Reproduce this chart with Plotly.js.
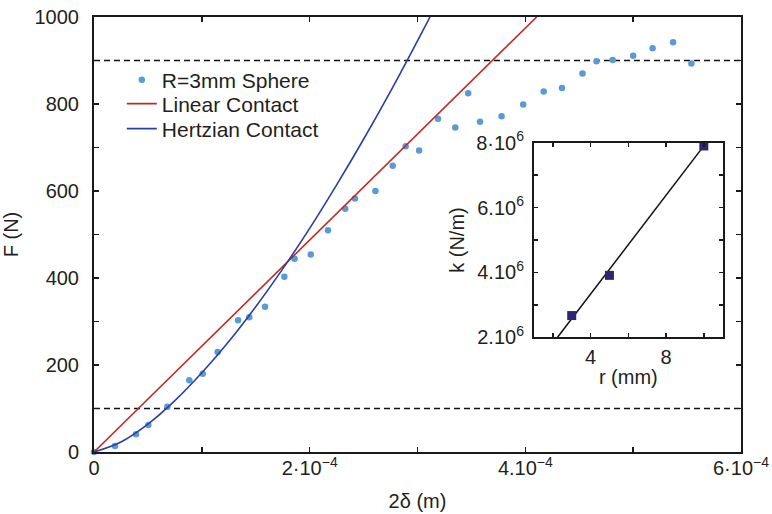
<!DOCTYPE html>
<html>
<head>
<meta charset="utf-8">
<script src="https://cdn.plot.ly/plotly-3.0.1.min.js"></script>
<style>
html,body{margin:0;padding:0;background:#fff;}
#chart{width:772px;height:514px;}
</style>
</head>
<body>
<div id="chart"></div>
<script>
// ---- Main data: R=3mm sphere, F vs 2δ ----
const sphereX = [0, 1.95e-5, 3.9e-5, 5.04e-5, 6.8e-5, 8.84e-5, 1.008e-4, 1.147e-4, 1.336e-4, 1.44e-4,
  1.586e-4, 1.765e-4, 1.86e-4, 2.01e-4, 2.17e-4, 2.33e-4, 2.42e-4, 2.61e-4, 2.77e-4, 2.89e-4,
  3.015e-4, 3.19e-4, 3.35e-4, 3.47e-4, 3.58e-4, 3.78e-4, 3.98e-4, 4.17e-4, 4.34e-4, 4.53e-4,
  4.66e-4, 4.81e-4, 5.0e-4, 5.18e-4, 5.37e-4, 5.54e-4];
const sphereF = [0, 14, 41, 62, 104, 165, 180, 230, 303, 310,
  334, 403, 444, 454, 510, 559, 583, 600, 658, 703,
  693, 766, 746, 825, 759, 772, 799, 829, 837, 870,
  898, 901, 911, 928, 942, 893];

// Linear contact fit (read endpoints)
const linearX = [0, 4.105e-4];
const linearF = [0, 1000];

// Hertzian contact fit
const hertzX = [0, 2.5e-5, 5e-5, 7.5e-5, 1e-4, 1.25e-4, 1.5e-4, 1.75e-4, 2e-4, 2.25e-4, 2.5e-4, 2.75e-4, 3e-4, 3.116e-4];
const hertzF = [0, 23, 64, 118, 182, 254, 334, 421, 514, 614, 719, 829, 945, 1000];

// Dashed threshold levels
const thresholdLevels = [100, 900];

// ---- Inset: k vs r ----
const insetR = [3, 5, 10];
const insetK = [2.67e6, 3.91e6, 7.9e6];
const insetFitR = [2.25, 10.1];
const insetFitK = [2.0e6, 7.98e6];

// Tick labels (major) and minor tick positions
const xTickVals = [0, 2e-4, 4e-4, 6e-4];
const xTickText = ['0', '2·10<sup>−4</sup>', '4.10<sup>−4</sup>', '6·10<sup>−4</sup>'];
const xMinorVals = [1e-4, 3e-4, 5e-4];
const yTickVals = [0, 200, 400, 600, 800, 1000];
const yTickText = ['0', '200', '400', '600', '800', '1000'];
const yMinorVals = [100, 300, 500, 700, 900];
const x2TickVals = [4, 8];
const x2TickText = ['4', '8'];
const x2MinorVals = [2, 6, 10];
const y2TickVals = [2e6, 4e6, 6e6, 8e6];
const y2TickText = ['2.10<sup>6</sup>', '4.10<sup>6</sup>', '6.10<sup>6</sup>', '8·10<sup>6</sup>'];
const y2MinorVals = [3e6, 5e6, 7e6];

const legendNames = ['R=3mm Sphere', 'Linear Contact', 'Hertzian Contact'];

const FONT = 'Liberation Sans, Arial, Helvetica, sans-serif';
const TXT = '#231f20';
const AX = '#1a1a1a';

const traces = [];
thresholdLevels.forEach(v => {
  traces.push({x: [0, 6e-4], y: [v, v], mode: 'lines', showlegend: false, hoverinfo: 'skip',
    line: {color: '#111', width: 1.5, dash: '6px,4px'}, xaxis: 'x', yaxis: 'y'});
});
traces.push({x: sphereX, y: sphereF, mode: 'markers', name: legendNames[0], cliponaxis: false,
  legend: 'legend', marker: {color: '#5b9bd5', size: 6.5}, xaxis: 'x', yaxis: 'y'});
traces.push({x: linearX, y: linearF, mode: 'lines', name: legendNames[1], legend: 'legend2',
  line: {color: '#bf2a22', width: 1.6}, xaxis: 'x', yaxis: 'y'});
traces.push({x: hertzX, y: hertzF, mode: 'lines', name: legendNames[2], legend: 'legend3',
  line: {color: '#2b3fa3', width: 1.6, shape: 'spline'}, xaxis: 'x', yaxis: 'y'});
traces.push({x: insetFitR, y: insetFitK, mode: 'lines', showlegend: false,
  line: {color: '#111', width: 1.5}, xaxis: 'x2', yaxis: 'y2'});
traces.push({x: insetR, y: insetK, mode: 'markers', showlegend: false, cliponaxis: false,
  marker: {color: '#2e2674', size: 9, symbol: 'square'}, xaxis: 'x2', yaxis: 'y2'});

const axCommon = {
  showline: true, linecolor: AX, linewidth: 2, mirror: 'ticks',
  ticks: 'inside', tickcolor: AX, tickwidth: 1.5,
  showgrid: false, zeroline: false, tickmode: 'array',
  tickfont: {family: FONT, size: 20, color: TXT}
};
function minorSpec(vals, len) {
  return {tickmode: 'array', tickvals: vals, ticks: 'inside', ticklen: len, tickwidth: 1.5, tickcolor: AX, showgrid: false};
}
function legendAt(yc) {
  return {x: 0.043, y: yc, xanchor: 'left', yanchor: 'middle', bgcolor: 'rgba(0,0,0,0)',
    font: {family: FONT, size: 21, color: TXT}, itemwidth: 30};
}

const layout = {
  width: 772, height: 514,
  margin: {l: 94, r: 31, t: 17, b: 62},
  paper_bgcolor: '#fff', plot_bgcolor: 'rgba(0,0,0,0)',
  font: {family: FONT, size: 20, color: TXT},
  showlegend: true,
  legend: legendAt(0.855),
  legend2: legendAt(0.800),
  legend3: legendAt(0.7425),
  xaxis: Object.assign({}, axCommon, {
    domain: [0, 1], range: [0, 6e-4], tickvals: xTickVals, ticktext: xTickText,
    ticklen: 5, ticklabelstandoff: -3, minor: minorSpec(xMinorVals, 5),
    title: {text: '2δ (m)', font: {family: FONT, size: 20, color: TXT}, standoff: 16}
  }),
  yaxis: Object.assign({}, axCommon, {
    domain: [0, 1], range: [0, 1000], tickvals: yTickVals, ticktext: yTickText,
    ticklen: 5, ticklabelstandoff: 9, minor: minorSpec(yMinorVals, 5),
    title: {text: 'F (N)', font: {family: FONT, size: 20, color: TXT}, standoff: 16}
  }),
  xaxis2: Object.assign({}, axCommon, {
    domain: [0.680, 0.9717], range: [1, 11], anchor: 'y2',
    tickvals: x2TickVals, ticktext: x2TickText, ticklen: 4, ticklabelstandoff: 1,
    minor: minorSpec(x2MinorVals, 4),
    title: {text: 'r (mm)', font: {family: FONT, size: 20, color: TXT}, standoff: 3}
  }),
  yaxis2: Object.assign({}, axCommon, {
    domain: [0.2637, 0.711], range: [2e6, 8e6], anchor: 'x2',
    tickvals: y2TickVals, ticktext: y2TickText, ticklen: 4, ticklabelstandoff: 4,
    minor: minorSpec(y2MinorVals, 4),
    title: {text: 'k (N/m)', font: {family: FONT, size: 20, color: TXT}, standoff: 6}
  })
};

Plotly.newPlot('chart', traces, layout, {displayModeBar: false, staticPlot: true});
</script>
</body>
</html>
